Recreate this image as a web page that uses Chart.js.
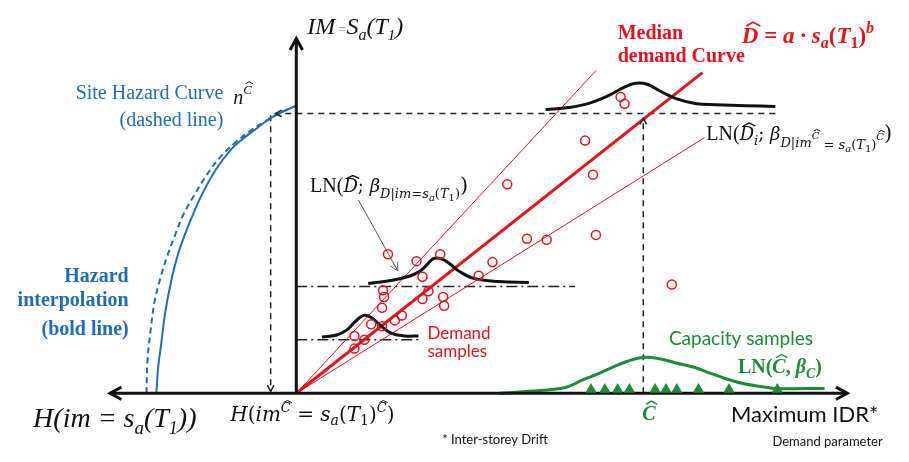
<!DOCTYPE html>
<html lang="en">
<head>
<meta charset="UTF-8">
<title>Hazard – demand – capacity scheme</title>
<script src="https://cdn.jsdelivr.net/npm/chart.js"></script>
<style>
  body { margin: 0; background: #fff; }
  canvas { display: block; }
</style>
</head>
<body>
<canvas id="chartCanvas" width="909" height="462"></canvas>
<script>
  // schematic units: origin where the two axes cross, y pointing up
  const hazardSolid = [[-142,0],[-140,28],[-137,51],[-133,83],[-127,115],[-120,143],[-112,166],[-104,186],[-94,208],[-81,231],[-67,250],[-54,262],[-41,272],[-29,281],[-19,287],[0,296]];
  const hazardDashed = [[-152,0],[-151,33],[-148,63],[-144,93],[-138,118],[-131,141],[-124,160],[-115,183],[-104,203],[-92,223],[-78,242],[-63,257],[-48,269],[-33,279],[-18,288],[0,296]];

  const xAxis = [[-189,0],[559,0]];
  const yAxis = [[0,0],[0,365]];

  const guideH = [[486,288],[-21,288]];
  const guideLeft = [[-26,286],[-26,2]];
  const guideRight = [[352,0],[352,283]];

  const upperLine = [[0,0],[304,332]];
  const medianLine = [[0,0],[412,330]];
  const lowerLine = [[0,0],[414,263]];

  const bellTop = [[253,292],[276,294],[296,298],[316,306],[331,314],[344,319],[356,318],[371,310],[386,303],[406,298],[426,297],[456,296],[486,295]];
  const bellMid = [[73,113],[96,116],[116,121],[126,126],[134,134],[140,139],[148,138],[156,133],[166,125],[181,118],[206,115],[236,114]];
  const bellLow = [[26,58],[41,60],[51,65],[59,73],[68,80],[76,78],[84,71],[96,62],[111,59],[124,59]];

  const levelMid = [[0,110],[283,110]];
  const levelLow = [[0,55],[124,55]];

  const demandSamples = [[329,305],[333,298],[293,260],[301,225],[214,215],[234,159],[254,158],[304,163],[381,112],
    [93,143],[122,136],[146,143],[199,135],[185,121],[128,120],[88,106],[89,99],[87,88],[134,105],[128,97],
    [149,99],[150,90],[107,80],[100,75],[76,71],[87,69],[59,59],[69,55],[59,46]];

  const capacityCurve = [[206,0],[236,2],[273,6],[291,14],[306,20],[319,26],[336,33],[353,37],[371,35],[386,31],[406,26],[419,21],[436,15],[453,10],[471,7],[486,5],[536,5]];
  const capacitySamplesX = [299,313,326,338,364,375,386,408,439,488];
  const capacitySampleY = 4;

  const leader = [[63,199],[103,126]];

  const pts = a => a.map(p => ({ x: p[0], y: p[1] }));

  const RED = '#e3141c', BLUE = '#1f6cb8', GREEN = '#1d8b37', BLACK = '#111';

  function line(data, color, width, extra) {
    return Object.assign({ data: pts(data), showLine: true, borderColor: color, borderWidth: width,
      pointRadius: 0, fill: false, tension: 0, clip: false }, extra || {});
  }

  const datasets = [
    { data: pts(demandSamples), pointStyle: 'circle', pointRadius: 4.5, pointBorderWidth: 1.5,
      pointBorderColor: RED, pointBackgroundColor: 'rgba(255,255,255,0)', showLine: false, clip: false },
    { data: capacitySamplesX.map(x => ({ x, y: capacitySampleY })), pointStyle: 'triangle', pointRadius: 6.5,
      pointBorderWidth: 0, pointBackgroundColor: GREEN, showLine: false, clip: false },
    line(xAxis, BLACK, 3, { arrow: 'both', arrowSize: 13 }),
    line(yAxis, BLACK, 3, { arrow: 'end', arrowSize: 13 }),
    line(bellTop, BLACK, 3, { tension: 0.4 }),
    line(bellMid, BLACK, 3, { tension: 0.4 }),
    line(bellLow, BLACK, 3, { tension: 0.4 }),
    line(capacityCurve, GREEN, 3, { tension: 0.4 }),
    line(medianLine, RED, 3),
    line(upperLine, RED, 1),
    line(lowerLine, RED, 1),
    line(hazardSolid, BLUE, 2, { tension: 0.4 }),
    line(hazardDashed, BLUE, 2, { tension: 0.4, borderDash: [6, 4] }),
    line(guideH, '#222', 1.5, { borderDash: [6, 5], arrow: 'end', arrowSize: 7 }),
    line(guideLeft, '#222', 1.5, { borderDash: [6, 5], arrow: 'end', arrowSize: 7 }),
    line(guideRight, '#222', 1.5, { borderDash: [6, 5], arrow: 'end', arrowSize: 7 }),
    line(levelMid, '#222', 1.5, { borderDash: [11, 4, 2, 4] }),
    line(levelLow, '#222', 1.5, { borderDash: [11, 4, 2, 4] }),
    line(leader, '#555', 1, { arrow: 'end', arrowSize: 9 })
  ];

  function chevron(ctx, x1, y1, x2, y2, size, width, color) {
    const a = Math.atan2(y2 - y1, x2 - x1);
    ctx.save();
    ctx.setLineDash([]);
    ctx.strokeStyle = color;
    ctx.lineWidth = width;
    ctx.beginPath();
    ctx.moveTo(x2 - size * Math.cos(a - 0.5), y2 - size * Math.sin(a - 0.5));
    ctx.lineTo(x2, y2);
    ctx.lineTo(x2 - size * Math.cos(a + 0.5), y2 - size * Math.sin(a + 0.5));
    ctx.stroke();
    ctx.restore();
  }

  const arrowPlugin = {
    id: 'arrows',
    afterDatasetsDraw(chart) {
      const ctx = chart.ctx;
      chart.data.datasets.forEach((ds, i) => {
        if (!ds.arrow) return;
        const p = chart.getDatasetMeta(i).data;
        const n = p.length;
        chevron(ctx, p[n - 2].x, p[n - 2].y, p[n - 1].x, p[n - 1].y, ds.arrowSize, ds.borderWidth, ds.borderColor);
        if (ds.arrow === 'both') chevron(ctx, p[1].x, p[1].y, p[0].x, p[0].y, ds.arrowSize, ds.borderWidth, ds.borderColor);
      });
    }
  };

  const SERIF = '"Liberation Serif", "Times New Roman", serif';
  const MATH = '"DejaVu Serif", serif';
  const SANS = 'Lato, "Open Sans", sans-serif';

  // draw a run of text pieces one after another
  function runs(ctx, x, y, parts, color) {
    parts.forEach(p => {
      const s = p.s;
      ctx.font = (p.st || '') + ' ' + s + 'px ' + (p.fam || SERIF);
      ctx.fillStyle = p.c || color;
      const yy = y + (p.dy || 0);
      ctx.fillText(p.t, x, yy);
      const w = ctx.measureText(p.t).width;
      if (p.hat) {
        const k = (p.st || '').includes('italic') ? 0.12 * s : 0;
        ctx.save();
        ctx.strokeStyle = p.c || color;
        ctx.lineWidth = Math.max(1, s / 14);
        ctx.beginPath();
        ctx.moveTo(x + 0.1 * w + k, yy - 0.76 * s);
        ctx.lineTo(x + 0.5 * w + k, yy - 0.92 * s);
        ctx.lineTo(x + 0.95 * w + k, yy - 0.76 * s);
        ctx.stroke();
        ctx.restore();
      }
      x += w;
    });
  }

  const textPlugin = {
    id: 'texts',
    afterDraw(chart) {
      const ctx = chart.ctx;
      const X = v => chart.scales.x.getPixelForValue(v);
      const Y = v => chart.scales.y.getPixelForValue(v);
      ctx.save();
      ctx.textBaseline = 'alphabetic';
      ctx.textAlign = 'left';

      runs(ctx, X(11), Y(370), [
        { t: 'IM', s: 24, st: 'italic' }, { t: ' =', s: 14, c: '#888' }, { t: 'S', s: 24, st: 'italic' },
        { t: 'a', s: 16, st: 'italic', dy: 6 }, { t: '(T', s: 24, st: 'italic' }, { t: '1', s: 15, st: 'italic', dy: 6 },
        { t: ')', s: 24, st: 'italic' }], BLACK);

      runs(ctx, X(-267), Y(-35), [
        { t: 'H(im = s', s: 28, st: 'italic' }, { t: 'a', s: 19, st: 'italic', dy: 7 }, { t: '(T', s: 28, st: 'italic' },
        { t: '1', s: 18, st: 'italic', dy: 7 }, { t: '))', s: 28, st: 'italic' }], BLACK);

      runs(ctx, X(-67), Y(-29), [
        { t: 'H', s: 20, st: 'italic', fam: MATH }, { t: '(', s: 20, fam: MATH }, { t: 'im', s: 20, st: 'italic', fam: MATH },
        { t: 'C', s: 13, st: 'italic', dy: -9, hat: true, fam: MATH }, { t: ' = ', s: 20, fam: MATH }, { t: 's', s: 20, st: 'italic', fam: MATH },
        { t: 'a', s: 14, st: 'italic', dy: 4, fam: MATH }, { t: '(', s: 20, fam: MATH }, { t: 'T', s: 20, st: 'italic', fam: MATH },
        { t: '1', s: 14, dy: 4, fam: MATH }, { t: ')', s: 20, fam: MATH }, { t: 'C', s: 13, st: 'italic', dy: -9, hat: true, fam: MATH },
        { t: ')', s: 20, fam: MATH }], BLACK);

      ctx.font = '22px ' + SANS; ctx.fillStyle = BLACK;
      ctx.fillText('Maximum IDR*', X(441), Y(-30));
      ctx.font = '13px ' + SANS;
      ctx.fillText('Demand parameter', X(483), Y(-54));
      ctx.fillText('* Inter-storey Drift', X(148), Y(-52));

      runs(ctx, X(351), Y(-27), [{ t: 'C', s: 20, st: 'bold italic', hat: true }], GREEN);

      ctx.textAlign = 'right';
      ctx.font = '20px ' + SERIF; ctx.fillStyle = BLUE;
      ctx.fillText('Site Hazard Curve', X(-74), Y(303));
      ctx.fillText('(dashed line)', X(-74), Y(275));
      ctx.font = 'bold 20px ' + SERIF;
      ctx.fillText('Hazard', X(-170), Y(115));
      ctx.fillText('interpolation', X(-170), Y(90));
      ctx.fillText('(bold line)', X(-170), Y(60));
      ctx.textAlign = 'left';

      runs(ctx, X(-64), Y(298), [{ t: 'n', s: 20, st: 'italic' }, { t: 'C', s: 13, st: 'italic', dy: -10, hat: true }], BLACK);

      ctx.font = 'bold 20px ' + SERIF; ctx.fillStyle = RED;
      ctx.fillText('Median', X(326), Y(365));
      ctx.fillText('demand Curve', X(326), Y(341));

      runs(ctx, X(452), Y(360), [
        { t: 'D', s: 23, st: 'bold italic', hat: true }, { t: ' = ', s: 23, st: 'bold' }, { t: 'a · s', s: 23, st: 'bold italic' },
        { t: 'a', s: 16, st: 'bold italic', dy: 5 }, { t: '(', s: 23, st: 'bold' }, { t: 'T', s: 23, st: 'bold italic' },
        { t: '1', s: 16, st: 'bold', dy: 5 }, { t: ')', s: 23, st: 'bold' }, { t: 'b', s: 16, st: 'bold italic', dy: -10 }], RED);

      runs(ctx, X(14), Y(207), [
        { t: 'LN(', s: 20 }, { t: 'D', s: 18, st: 'italic', hat: true, fam: MATH }, { t: '; ', s: 18, fam: MATH },
        { t: 'β', s: 18, st: 'italic', fam: MATH },
        { t: 'D|im=s', s: 13, st: 'italic', dy: 6, fam: MATH }, { t: 'a', s: 10, st: 'italic', dy: 9, fam: MATH },
        { t: '(', s: 13, dy: 6, fam: MATH }, { t: 'T', s: 13, st: 'italic', dy: 6, fam: MATH }, { t: '1', s: 10, dy: 9, fam: MATH },
        { t: ')', s: 13, dy: 6, fam: MATH }, { t: ')', s: 21, fam: MATH }], BLACK);

      runs(ctx, X(416), Y(261), [
        { t: 'LN(', s: 20 }, { t: 'D', s: 18, st: 'italic', hat: true, fam: MATH }, { t: 'i', s: 13, st: 'italic', dy: 5, fam: MATH },
        { t: '; ', s: 18, fam: MATH }, { t: 'β', s: 18, st: 'italic', fam: MATH },
        { t: 'D|im', s: 13, st: 'italic', dy: 7, fam: MATH }, { t: 'C', s: 10, st: 'italic', dy: -1, hat: true, fam: MATH },
        { t: ' = s', s: 13, st: 'italic', dy: 9, fam: MATH }, { t: 'a', s: 10, st: 'italic', dy: 12, fam: MATH },
        { t: '(', s: 13, dy: 9, fam: MATH }, { t: 'T', s: 13, st: 'italic', dy: 9, fam: MATH }, { t: '1', s: 10, dy: 12, fam: MATH },
        { t: ')', s: 13, dy: 9, fam: MATH }, { t: 'C', s: 10, st: 'italic', dy: 0, hat: true, fam: MATH }, { t: ')', s: 21, fam: MATH }], BLACK);

      ctx.font = '17px ' + SANS; ctx.fillStyle = RED;
      ctx.fillText('Demand', X(133), Y(56));
      ctx.fillText('samples', X(133), Y(37));

      ctx.font = '19px ' + SANS; ctx.fillStyle = GREEN;
      ctx.fillText('Capacity samples', X(378), Y(50));
      runs(ctx, X(448), Y(21), [
        { t: 'LN(', s: 20, st: 'bold' }, { t: 'C', s: 20, st: 'bold italic', hat: true }, { t: ', ', s: 20, st: 'bold' },
        { t: 'β', s: 20, st: 'bold italic' }, { t: 'C', s: 14, st: 'bold italic', dy: 5 }, { t: ')', s: 20, st: 'bold' }], GREEN);

      ctx.restore();
    }
  };

  new Chart(document.getElementById('chartCanvas').getContext('2d'), {
    type: 'scatter',
    data: { datasets },
    options: {
      responsive: false,
      animation: false,
      devicePixelRatio: 1,
      layout: { padding: 0 },
      plugins: { legend: { display: false }, tooltip: { enabled: false } },
      scales: {
        x: { type: 'linear', min: -294, max: 615, display: false },
        y: { type: 'linear', min: -64, max: 398, display: false }
      }
    },
    plugins: [arrowPlugin, textPlugin]
  });
</script>
</body>
</html>
